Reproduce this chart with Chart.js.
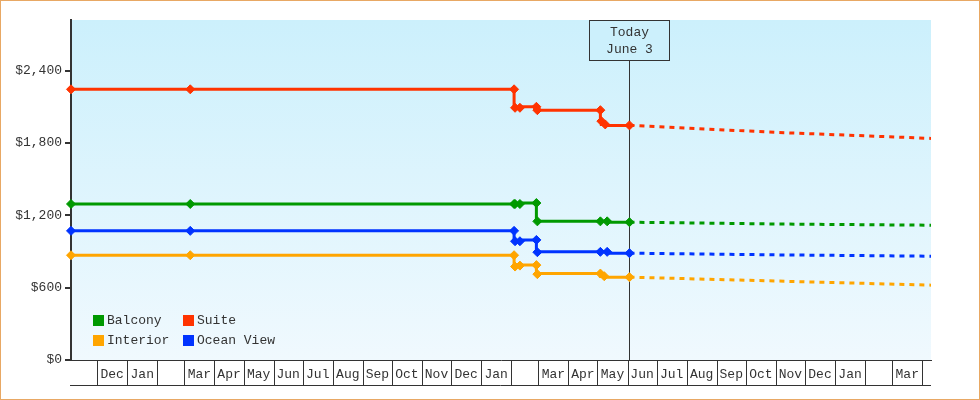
<!DOCTYPE html>
<html><head><meta charset="utf-8">
<script src="https://cdn.jsdelivr.net/npm/chart.js@4/dist/chart.umd.min.js"></script>
<style>html,body{margin:0;padding:0;background:#fff}canvas{display:block}</style>
</head><body>
<canvas id="c" width="980" height="400"></canvas>
<script>
// ---------- data ----------
const seriesNames  = ['Balcony', 'Suite', 'Interior', 'Ocean View'];
const seriesColors = ['#009900', '#ff3300', '#ffa500', '#0033ff'];

const balconyDates  = ['2020-11-04','2021-03-07','2022-02-04','2022-02-05','2022-02-10','2022-02-27','2022-02-28','2022-05-04','2022-05-11','2022-06-03'];
const balconyPrices = [1294, 1294, 1294, 1294, 1294, 1302, 1150, 1150, 1150, 1143];

const suiteDates  = ['2020-11-04','2021-03-07','2022-02-04','2022-02-05','2022-02-10','2022-02-27','2022-02-28','2022-05-04','2022-05-05','2022-05-09','2022-06-03'];
const suitePrices = [2245, 2245, 2245, 2092, 2092, 2100, 2072, 2072, 1981, 1954, 1946];

const interiorDates  = ['2020-11-04','2021-03-07','2022-02-04','2022-02-05','2022-02-10','2022-02-27','2022-02-28','2022-05-04','2022-05-08','2022-06-03'];
const interiorPrices = [869, 869, 869, 775, 783, 787, 712, 717, 695, 687];

const oceanDates  = ['2020-11-04','2021-03-07','2022-02-04','2022-02-05','2022-02-10','2022-02-27','2022-02-28','2022-05-04','2022-05-11','2022-06-03'];
const oceanPrices = [1071, 1071, 1071, 985, 985, 996, 894, 897, 897, 886];

const projDates       = ['2022-06-03','2022-11-01','2023-04-10'];
const balconyForecast = [1143, 1128, 1118];
const suiteForecast   = [1946, 1888, 1838];
const interiorForecast= [687, 655, 621];
const oceanForecast   = [886, 872, 861];

const monthStarts = ['2020-12-01','2021-01-01','2021-02-01','2021-03-01','2021-04-01','2021-05-01','2021-06-01','2021-07-01','2021-08-01','2021-09-01','2021-10-01','2021-11-01','2021-12-01',
  '2022-01-01','2022-02-01','2022-03-01','2022-04-01','2022-05-01','2022-06-01','2022-07-01','2022-08-01','2022-09-01','2022-10-01','2022-11-01','2022-12-01',
  '2023-01-01','2023-02-01','2023-03-01','2023-04-01'];
const monthLabels = ['Dec','Jan','','Mar','Apr','May','Jun','Jul','Aug','Sep','Oct','Nov','Dec',
  'Jan','','Mar','Apr','May','Jun','Jul','Aug','Sep','Oct','Nov','Dec',
  'Jan','','Mar',''];
const yTickValues = [0, 600, 1200, 1800, 2400];
const axisStart = '2020-11-04';
const axisEnd   = '2023-04-10';
const todayDate = '2022-06-03';
const todayText = ['Today', 'June 3'];

// ---------- helpers ----------
const BASE = Date.UTC(2020, 11, 1);
function day(s){ const p = s.split('-').map(Number); return (Date.UTC(p[0], p[1]-1, p[2]) - BASE) / 864e5; }
function pts(dates, vals){ return dates.map((d, i) => ({x: day(d), y: vals[i]})); }

const FONT = {family: "'Liberation Mono', 'DejaVu Sans Mono', monospace", size: 13};
const INK = '#333333';

const histSets = [[balconyDates, balconyPrices], [suiteDates, suitePrices], [interiorDates, interiorPrices], [oceanDates, oceanPrices]];
const projSets = [balconyForecast, suiteForecast, interiorForecast, oceanForecast];

const datasets = [];
projSets.forEach((vals, i) => datasets.push({
  label: seriesNames[i] + ' forecast', data: pts(projDates, vals), borderColor: seriesColors[i],
  borderWidth: 3, borderDash: [5, 5], pointRadius: 0, fill: false, tension: 0
}));
histSets.forEach((s, i) => datasets.push({
  label: seriesNames[i], data: pts(s[0], s[1]), borderColor: seriesColors[i], backgroundColor: seriesColors[i],
  borderWidth: 3, stepped: 'after', pointStyle: 'rectRot', pointRadius: 4.5, pointBorderWidth: 1,
  pointBackgroundColor: seriesColors[i], pointBorderColor: seriesColors[i], fill: false, clip: 8
}));

const decor = {
  id: 'decor',
  beforeDraw(chart){
    const {ctx, chartArea: a} = chart;
    const g = ctx.createLinearGradient(0, a.top, 0, a.bottom);
    g.addColorStop(0, '#ccf0fc'); g.addColorStop(1, '#f0f9fe');
    ctx.save(); ctx.fillStyle = g; ctx.fillRect(a.left, a.top, a.right - a.left, a.bottom - a.top); ctx.restore();
  },
  beforeDatasetsDraw(chart){
    const {ctx, chartArea: a, scales: {x}} = chart;
    const tx = Math.round(x.getPixelForValue(day(todayDate))) + 0.5;
    ctx.save(); ctx.strokeStyle = INK; ctx.lineWidth = 1;
    ctx.beginPath(); ctx.moveTo(tx, a.top + 40); ctx.lineTo(tx, a.bottom); ctx.stroke(); ctx.restore();
  },
  afterDatasetsDraw(chart){
    const {ctx, chartArea: a} = chart;
    ctx.save();
    ctx.font = `${FONT.size}px ${FONT.family}`; ctx.textBaseline = 'middle'; ctx.textAlign = 'left';
    for (let i = 0; i < seriesNames.length; i++){
      const col = i % 2, row = Math.floor(i / 2);
      const bx = a.left + 22 + col * 90, by = a.bottom - 45 + row * 20;
      ctx.fillStyle = seriesColors[i]; ctx.fillRect(bx, by, 11, 11);
      ctx.fillStyle = INK; ctx.fillText(seriesNames[i], bx + 14, by + 6);
    }
    ctx.restore();
  },
  afterDraw(chart){
    const {ctx, chartArea: a, scales: {x}} = chart;
    ctx.save();
    // month cells
    ctx.strokeStyle = INK; ctx.lineWidth = 1;
    ctx.beginPath();
    monthStarts.forEach(m => { const px = Math.round(x.getPixelForValue(day(m))) + 0.5; ctx.moveTo(px, a.bottom); ctx.lineTo(px, a.bottom + 25); });
    ctx.moveTo(a.left - 1, a.bottom + 25.5); ctx.lineTo(a.right, a.bottom + 25.5);
    ctx.stroke();
    // today box
    const tx = Math.round(x.getPixelForValue(day(todayDate)));
    ctx.fillStyle = '#ccf0fc';
    ctx.fillRect(tx - 40, a.top, 80, 40);
    ctx.strokeRect(tx - 40 + 0.5, a.top + 0.5, 80, 40);
    ctx.fillStyle = INK; ctx.font = `${FONT.size}px ${FONT.family}`; ctx.textAlign = 'center'; ctx.textBaseline = 'middle';
    ctx.fillText(todayText[0], tx + 0.5, a.top + 13);
    ctx.fillText(todayText[1], tx + 0.5, a.top + 30);
    // outer frame
    ctx.strokeStyle = '#e8a864'; ctx.lineWidth = 1;
    ctx.strokeRect(0.5, 0.5, chart.width - 1, chart.height - 1);
    ctx.restore();
  }
};

new Chart(document.getElementById('c'), {
  type: 'line',
  data: {datasets},
  plugins: [decor],
  options: {
    responsive: false, animation: false, devicePixelRatio: 1,
    layout: {padding: {top: 20, right: 49, left: 0, bottom: 0}},
    plugins: {legend: {display: false}, tooltip: {enabled: false}, title: {display: false}},
    scales: {
      x: {
        type: 'linear', min: day(axisStart), max: day(axisEnd),
        afterBuildTicks(s){
          const ends = monthStarts.map(day).concat([day(axisEnd)]);
          s.ticks = monthStarts.map((m, i) => ({value: (ends[i] + ends[i + 1]) / 2}));
        },
        ticks: {autoSkip: false, maxRotation: 0, minRotation: 0, padding: -1, color: INK, font: FONT,
          callback: (v, i) => monthLabels[i]},
        grid: {display: false},
        border: {display: true, color: INK, width: 1},
        afterFit(s){ s.height = 40; }
      },
      y: {
        min: 0, max: 2820,
        afterBuildTicks(s){ s.ticks = yTickValues.map(v => ({value: v})); },
        ticks: {padding: 3, color: INK, font: FONT, callback: v => '$' + Number(v).toLocaleString('en-US')},
        grid: {display: true, drawOnChartArea: false, drawTicks: true, tickLength: 6, color: INK, lineWidth: 2},
        border: {display: true, color: INK, width: 2},
        afterFit(s){ s.width = 71; }
      }
    }
  }
});
</script>
</body></html>
